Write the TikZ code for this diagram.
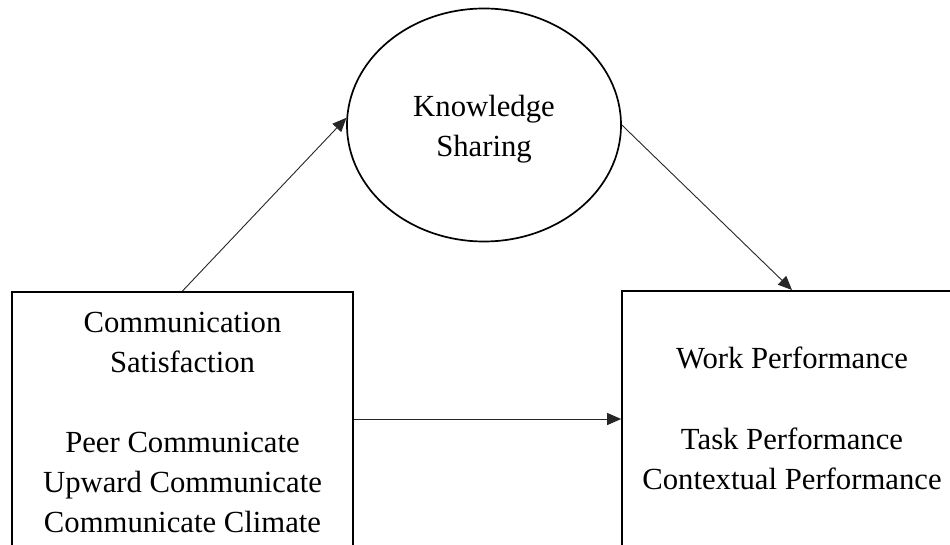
\documentclass[tikz,border=0pt]{standalone}
\usepackage{fontspec}
\setmainfont{Liberation Serif}
\usetikzlibrary{shapes.geometric,arrows.meta}
\begin{document}
\begin{tikzpicture}[x=1pt,y=1pt,
  frame/.style={draw=black,line width=1.7pt,rectangle,inner sep=0pt},
  oval/.style={draw=black,line width=1.7pt,ellipse,inner sep=0pt},
  link/.style={draw=black!85,line width=0.9pt,-{Triangle[length=14pt,width=12pt]}},
  txt/.style={anchor=base,inner sep=0pt,font=\fontsize{30.7}{40}\selectfont}]
% page area; both boxes run on past its lower and right edges
\clip (0,0) rectangle (950,-545);
\fill[white] (0,0) rectangle (950,-545);

% boxes and the mediator
\node[frame,anchor=north,minimum width=341pt,minimum height=330pt] (cs) at (182.5,-291) {};
\node[frame,anchor=north,minimum width=340pt,minimum height=330pt] (wp) at (792,-290) {};
\node[oval,minimum width=274pt,minimum height=233pt] (ks) at (484,-125) {};

% labels
\node[txt] (ks1) at (484,-117) {Knowledge};
\node[txt] (ks2) at (484,-157) {Sharing};

\node[txt] (cs1) at (182.5,-332) {Communication};
\node[txt] (cs2) at (182.5,-372) {Satisfaction};
\node[txt] (cs3) at (182.5,-452) {Peer Communicate};
\node[txt] (cs4) at (182.5,-492) {Upward Communicate};
\node[txt] (cs5) at (182.5,-532) {Communicate Climate};

\node[txt] (wp1) at (792,-368) {Work Performance};
\node[txt] (wp2) at (792,-449) {Task Performance};
\node[txt] (wp3) at (792,-489) {Contextual Performance};

% paths
\draw[link] (cs.north) -- (ks.177);
\draw[link] (ks.east) -- (wp.north);
\draw[link] ([yshift=-128pt]cs.north east) -- ([yshift=-129pt]wp.north west);
\end{tikzpicture}
\end{document}
